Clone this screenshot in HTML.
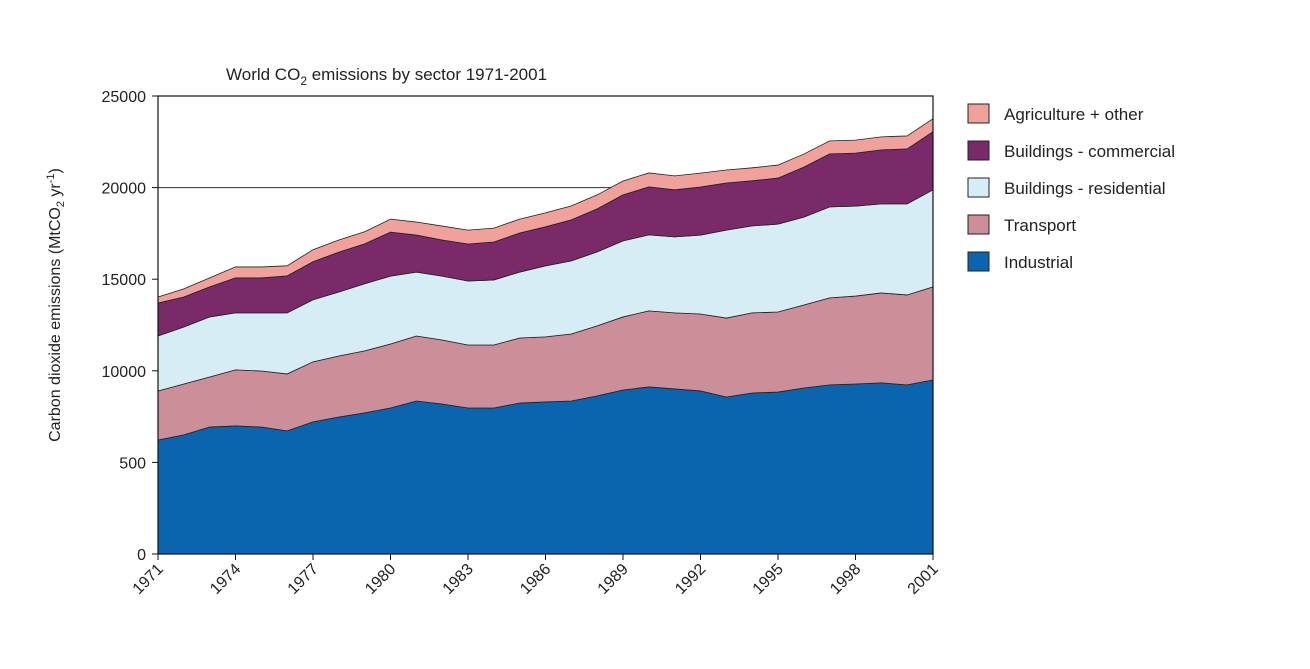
<!DOCTYPE html>
<html><head><meta charset="utf-8"><style>
body{margin:0;background:#fff;width:1310px;height:664px;overflow:hidden;font-family:"Liberation Sans",sans-serif;}
</style></head><body>
<svg id="chart" width="1310" height="664" xmlns="http://www.w3.org/2000/svg" font-family="Liberation Sans, sans-serif">
<text x="226" y="80" font-size="17" fill="#222">World CO<tspan font-size="12" dy="5">2</tspan><tspan dy="-5"> emissions by sector 1971-2001</tspan></text>
<text transform="translate(60,305) rotate(-90)" text-anchor="middle" font-size="16" fill="#222">Carbon dioxide emissions (MtCO<tspan font-size="11" dy="4">2</tspan><tspan dy="-4"> yr</tspan><tspan font-size="11" dy="-6">-1</tspan><tspan dy="6">)</tspan></text>
<g id="grid"></g>
<g id="areas"></g>
<g id="axes"></g>
<g id="legend"></g>
</svg>
<script>
const years=[1971,1972,1973,1974,1975,1976,1977,1978,1979,1980,1981,1982,1983,1984,1985,1986,1987,1988,1989,1990,1991,1992,1993,1994,1995,1996,1997,1998,1999,2000,2001];
const industrial=[6220,6500,6930,6990,6930,6720,7210,7480,7700,7970,8350,8190,7970,7970,8240,8300,8350,8630,8950,9120,9010,8900,8570,8790,8840,9060,9230,9280,9340,9230,9500];
const transport=[2680,2780,2730,3060,3060,3110,3280,3330,3390,3490,3550,3490,3440,3440,3550,3550,3660,3820,3990,4150,4150,4200,4310,4370,4370,4530,4750,4800,4910,4910,5080];
const residential=[3000,3110,3280,3110,3170,3330,3390,3490,3660,3710,3490,3490,3490,3550,3600,3880,3990,4040,4150,4150,4150,4310,4800,4750,4800,4800,4970,4910,4860,4970,5300];
const commercial=[1800,1640,1640,1910,1910,2020,2070,2180,2180,2400,2020,1970,2020,2070,2130,2130,2240,2350,2510,2620,2570,2620,2570,2460,2510,2730,2890,2890,2950,3000,3170];
const agriculture=[330,440,490,600,600,550,660,660,660,710,710,760,760,760,760,760,760,760,760,760,760,760,710,710,710,710,710,710,710,710,710];
const yTicks=[0,5000,10000,15000,20000,25000];
const yTickLabels=["0","500","10000","15000","20000","25000"];
const xTicks=[1971,1974,1977,1980,1983,1986,1989,1992,1995,1998,2001];
const seriesNames=["Industrial","Transport","Buildings - residential","Buildings - commercial","Agriculture + other"];
const seriesColors=["#0b64ae","#cc8f99","#d7edf6","#7b2a69","#f1a19b"];

const NS="http://www.w3.org/2000/svg";
const X0=158,X1=933,Y0=554,Y1=96;
const xs=y=>X0+(y-1971)/(2001-1971)*(X1-X0);
const ys=v=>Y0-v/25000*(Y0-Y1);
function mk(tag,attrs,parent){const e=document.createElementNS(NS,tag);for(const k in attrs)e.setAttribute(k,attrs[k]);parent.appendChild(e);return e;}
const grid=document.getElementById('grid'),areas=document.getElementById('areas'),axes=document.getElementById('axes'),legend=document.getElementById('legend');
const g=mk('line',{x1:X0,x2:X1,y1:ys(20000),y2:ys(20000),stroke:"#333","stroke-width":"1"},grid);


const series=[industrial,transport,residential,commercial,agriculture];
const keys=["industrial","transport","residential","commercial","agriculture"];
let base=years.map(()=>0);
series.forEach((s,i)=>{
  const top=base.map((b,j)=>b+s[j]);
  let d="M"+years.map((y,j)=>xs(y)+","+ys(top[j])).join(" L");
  for(let j=years.length-1;j>=0;j--)d+=" L"+xs(years[j])+","+ys(base[j]);
  d+=" Z";
  const p=mk('path',{d:d,fill:seriesColors[i],stroke:"#222","stroke-width":"0.8"},areas);
  
  
  base=top;
});
const frame=mk('rect',{x:X0,y:Y1,width:X1-X0,height:Y0-Y1,fill:"none",stroke:"#111","stroke-width":"1.2"},axes);


yTicks.forEach((v,i)=>{
  const t=mk('line',{x1:X0-6,x2:X0,y1:ys(v),y2:ys(v),stroke:"#111"},axes);
  
  
  const l=mk('text',{x:X0-12,y:ys(v)+6,"text-anchor":"end","font-size":"16",fill:"#222"},axes);
  l.textContent=yTickLabels[i];
  
  
});
xTicks.forEach(y=>{
  const t=mk('line',{x1:xs(y),x2:xs(y),y1:Y0,y2:Y0+6,stroke:"#111"},axes);
  
  
  const l=mk('text',{x:xs(y)+6,y:Y0+16,"text-anchor":"end","font-size":"16",fill:"#222",transform:"rotate(-45 "+(xs(y)+6)+" "+(Y0+16)+")"},axes);
  l.textContent=y;
  
  
});
for(let i=4;i>=0;i--){
  const yy=104+(4-i)*37;
  const r=mk('rect',{x:968,y:yy,width:21,height:19,fill:seriesColors[i],stroke:"#222","stroke-width":"1"},legend);
  
  
  const t=mk('text',{x:1004,y:yy+16,"font-size":"17",fill:"#222"},legend);
  t.textContent=seriesNames[i];
  
  
}
</script>
</body></html>
